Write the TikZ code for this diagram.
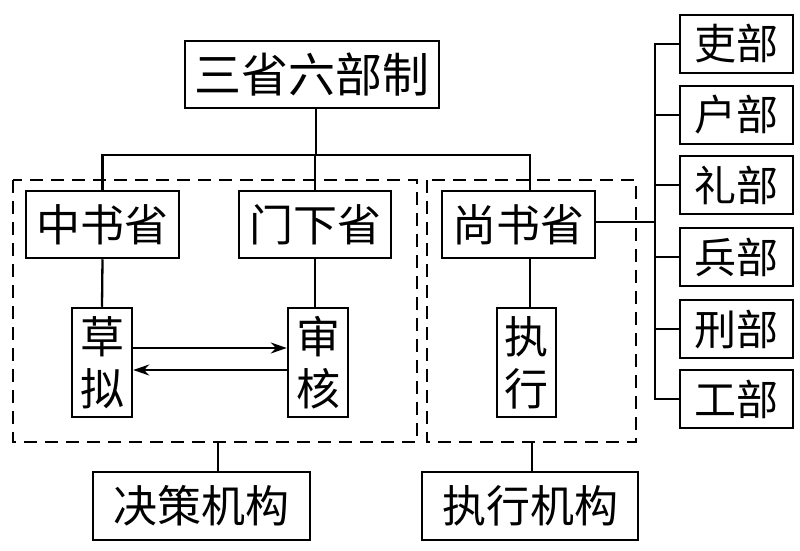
\documentclass[tikz,border=0pt]{standalone}
\usepackage{fontspec}
\setmainfont{Noto Sans CJK SC}
\usetikzlibrary{arrows.meta}
\begin{document}
\begin{tikzpicture}[x=1pt,y=-1pt,
  box/.style={draw,line width=2.5pt,inner sep=0pt,minimum width=#1},
  hbox/.style={box=#1,minimum height=67pt,font=\fontsize{44}{50}\selectfont},
  vbox/.style={box=60pt,minimum height=109pt,align=center,font=\fontsize{44}{52}\selectfont},
  mbox/.style={box=113pt,minimum height=58pt,font=\fontsize{42}{48}\selectfont},
  conn/.style={line width=2.3pt},
  arr/.style={line width=2.3pt,-{Stealth[length=16pt,width=11pt]}},
  dbox/.style={line width=2.6pt,dash pattern=on 13pt off 8pt}
]
\useasboundingbox (0,0) rectangle (800,551);
% dashed groups
\draw[dbox] (13,180) rectangle (417,442);
\draw[dbox] (427,180) rectangle (636,442);
\coordinate (lgB) at (218,442);
\coordinate (rgB) at (532,442);
% nodes
\node[hbox=254pt,font=\fontsize{47}{52}\selectfont] (top) at (312,74.5) {三省六部制};
\node[hbox=153pt] (zs) at (102.5,224.5) {中书省};
\node[hbox=152pt] (mx) at (315,224.5) {门下省};
\node[hbox=153pt] (ss) at (518.5,224.5) {尚书省};
\node[vbox] (cn) at (102,362.5) {草\\拟};
\node[vbox] (sh) at (318,362.5) {审\\核};
\node[vbox,minimum width=59pt] (zx) at (526.5,362.5) {执\\行};
\node[hbox=217pt,minimum height=68pt] (jc) at (201.5,506) {决策机构};
\node[hbox=216pt,minimum height=68pt] (zxjg) at (530,506) {执行机构};
\node[mbox] (m1) at (736.5,44) {吏部};
\node[mbox] (m2) at (736.5,115) {户部};
\node[mbox] (m3) at (736.5,185) {礼部};
\node[mbox] (m4) at (736.5,257) {兵部};
\node[mbox] (m5) at (736.5,329) {刑部};
\node[mbox] (m6) at (736.5,399) {工部};
% coordinates
\coordinate (hub) at (316,155);
\coordinate (ssT) at (530,191);
\coordinate (ssB) at (530,258);
\coordinate (tk) at (655,0);
% connectors
\draw[conn] (hub |- top.south) -- (hub);
\draw[conn] (zs.north) -- (zs.north |- hub) -- (ssT |- hub) -- (ssT);
\draw[conn] (mx.north |- hub) -- (mx.north);
\draw[conn] (zs.south) -- (cn.north);
\draw[conn] (mx.south) -- (mx.south |- sh.north);
\draw[conn] (ssB) -- (ssB |- zx.north);
\draw[arr] ([yshift=14.5pt]cn.east) -- ([yshift=14.5pt]sh.west);
\draw[arr] ([yshift=-7.5pt]sh.west) -- ([yshift=-7.5pt]cn.east);
\draw[conn] (lgB) -- (lgB |- jc.north);
\draw[conn] (rgB) -- (rgB |- zxjg.north);
\draw[conn] ([yshift=2.5pt]ss.east) -- ([yshift=2.5pt]ss.east -| tk);
\draw[conn] (m1.west) -- (m1.west -| tk) -- (m6.west -| tk) -- (m6.west);
\foreach \m in {m2,m3,m4,m5} \draw[conn] (\m.west -| tk) -- (\m.west);
\end{tikzpicture}
\end{document}
